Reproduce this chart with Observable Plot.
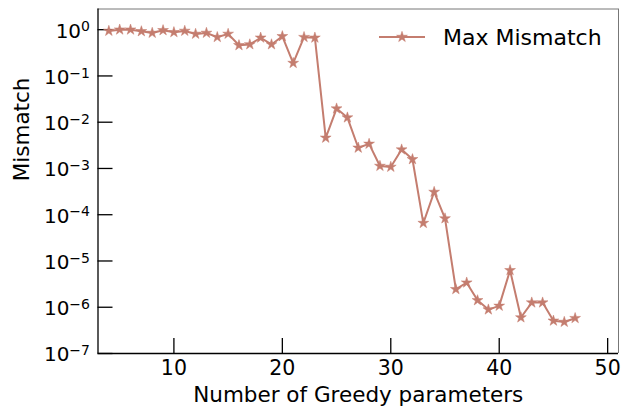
<!DOCTYPE html>
<html><head><meta charset="utf-8">
<script src="https://cdn.jsdelivr.net/npm/d3@7"></script>
<script src="https://cdn.jsdelivr.net/npm/@observablehq/plot@0.6"></script>
<style>
body{margin:0;background:#fff}
svg{font-family:"DejaVu Sans",sans-serif}
</style>
</head><body><div id="chart"></div>
<script>
// Data
const params = [4,5,6,7,8,9,10,11,12,13,14,15,16,17,18,19,20,21,22,23,24,25,26,27,28,29,30,31,32,33,34,35,36,37,38,39,40,41,42,43,44,45,46,47];
const maxMismatch = [0.94,1.0,1.0,0.92,0.85,0.97,0.88,0.94,0.81,0.85,0.69,0.81,0.46,0.48,0.67,0.48,0.72,0.19,0.69,0.67,
  0.0046,0.0197,0.0126,0.0028,0.0034,0.00113,0.00108,0.00256,0.00158,6.6e-5,3.1e-4,8.3e-5,
  2.45e-6,3.4e-6,1.41e-6,8.9e-7,1.07e-6,6.3e-6,6.0e-7,1.26e-6,1.26e-6,5.1e-7,4.8e-7,5.8e-7];
const xTicks = [10,20,30,40,50];
const yTicks = [1e-7,1e-6,1e-5,1e-4,1e-3,1e-2,1e-1,1];
const xDomain = [3,51];
const yDomain = [1e-7,2.8];
const seriesLabel = "Max Mismatch";
const xLabel = "Number of Greedy parameters";
const yLabel = "Mismatch";
const color = "#c47d6f";

const data = params.map((n,i)=>({n, m: maxMismatch[i]}));
const supMap = {"-":"⁻","0":"⁰","1":"¹","2":"²","3":"³","4":"⁴","5":"⁵","6":"⁶","7":"⁷","8":"⁸","9":"⁹"};
const fmtExp = d => "10" + String(Math.round(Math.log10(d))).split("").map(c=>supMap[c]).join("");

const W=633,H=407,mL=97.5,mR=15,mT=8.5,mB=54;
const plotW=W-mL-mR, plotH=H-mT-mB, tickLen=15;

const svg = Plot.plot({
  width:W, height:H, marginLeft:mL, marginRight:mR, marginTop:mT, marginBottom:mB,
  style:{fontFamily:"DejaVu Sans", color:"#000", background:"#fff", overflow:"visible"},
  x:{domain:xDomain},
  y:{type:"log", domain:yDomain},
  marks:[
    Plot.axisX(xTicks,{tickSize:0, tickPadding:7, fontSize:20.5, label:null}),
    Plot.axisY(yTicks,{tickSize:0, tickPadding:8, fontSize:20, label:null, tickFormat:fmtExp}),
    Plot.tickX(xTicks,{x:d=>d, insetTop:plotH-tickLen, stroke:"#000", strokeWidth:1.3}),
    Plot.tickY(yTicks,{y:d=>d, insetRight:plotW-tickLen, stroke:"#000", strokeWidth:1.3}),
    Plot.ruleY([yDomain[1]],{stroke:"#777", strokeWidth:1}),
    Plot.ruleX([xDomain[1]],{stroke:"#777", strokeWidth:1}),
    Plot.ruleX([xDomain[0]],{stroke:"#000", strokeWidth:1.3}),
    Plot.ruleY([yDomain[0]],{stroke:"#000", strokeWidth:1.3}),
    Plot.line(data,{x:"n", y:"m", stroke:color, strokeWidth:2}),
    Plot.dot(data,{x:"n", y:"m", symbol:"star", fill:color, stroke:color, strokeWidth:0.5, r:3.4}),
    Plot.text([xLabel],{frameAnchor:"bottom", dy:42, fontSize:21.5, lineAnchor:"middle"}),
    Plot.text([yLabel],{frameAnchor:"left", dx:-75.5, rotate:-90, fontSize:21.5, lineAnchor:"middle"})
  ]
});

// legend
const lg = d3.select(svg).append("g").attr("aria-label","legend");
lg.append("line").attr("x1",379).attr("x2",425).attr("y1",37).attr("y2",37).attr("stroke",color).attr("stroke-width",2);
lg.append("path").attr("d", d3.symbol(d3.symbolStar, Math.PI*3.4*3.4)()).attr("transform","translate(402,37)").attr("fill",color).attr("stroke",color).attr("stroke-width",0.5);
lg.append("text").attr("x",443).attr("y",37).attr("dy","0.36em").attr("font-size",22).attr("text-anchor","start").attr("fill","#000").text(seriesLabel);

document.getElementById("chart").appendChild(svg);

// convert unicode superscripts on y tick labels into real superscript tspans, right-aligned by measurement
const inv = {}; for (const k in supMap) inv[supMap[k]] = k === "-" ? "−" : k;
d3.select(svg).selectAll('g[aria-label="y-axis tick label"] text').each(function(){
  const t = d3.select(this);
  const s = t.text();
  const base = s.slice(0,2), exp = s.slice(2).split("").map(c=>inv[c]||c).join("");
  t.text(null);
  t.append("tspan").text(base);
  t.append("tspan").attr("dy","-0.45em").attr("font-size","14px").text(exp);
  const len = this.getComputedTextLength();
  const x0 = +(t.attr("x") || 0);
  t.attr("text-anchor","start").attr("x", x0 - len);
  t.attr("transform", (t.attr("transform")||"") + " translate(0,1.5)");
});
</script>
</body></html>
